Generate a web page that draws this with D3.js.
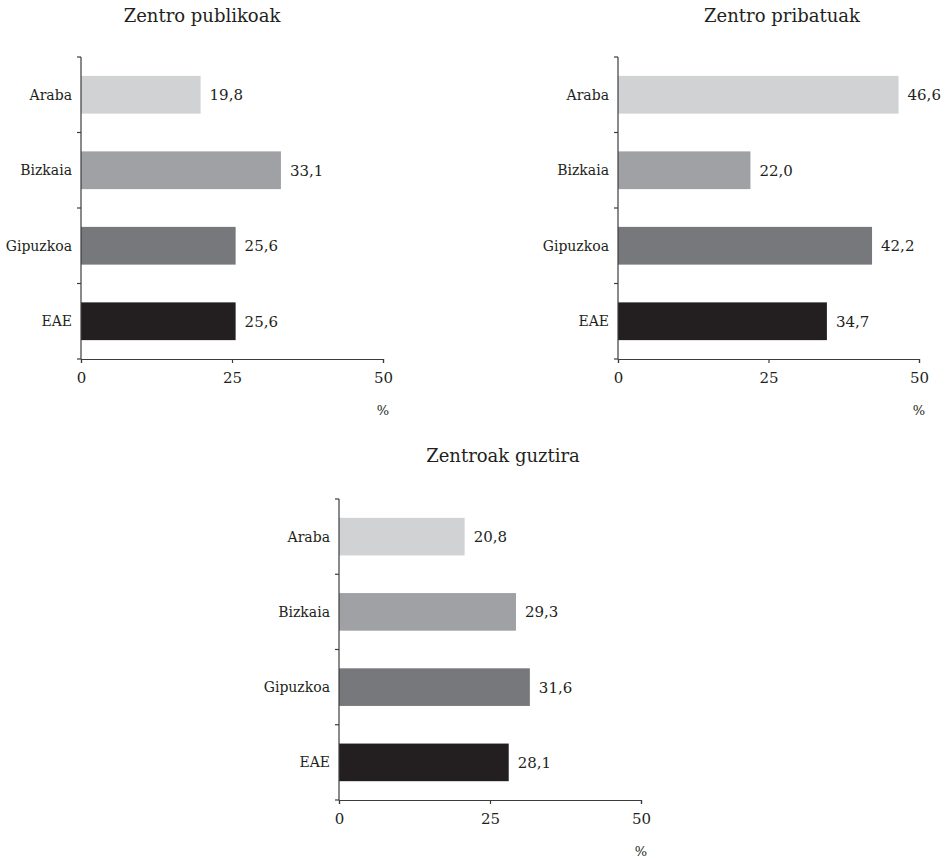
<!DOCTYPE html>
<html>
<head>
<meta charset="utf-8">
<script src="https://cdn.jsdelivr.net/npm/d3@7"></script>
<style>
  html, body { margin: 0; padding: 0; background: #ffffff; }
  svg { display: block; }
  text { font-family: "DejaVu Serif", "Liberation Serif", serif; fill: #231f20; }
</style>
</head>
<body>
<svg id="chart" width="948" height="860"></svg>
<script>
// ---- Data ----
const categories = ["Araba", "Bizkaia", "Gipuzkoa", "EAE"];
const panelTitles = ["Zentro publikoak", "Zentro pribatuak", "Zentroak guztira"];
const publicValues = [19.8, 33.1, 25.6, 25.6];
const privateValues = [46.6, 22.0, 42.2, 34.7];
const totalValues = [20.8, 29.3, 31.6, 28.1];
const xTicks = [0, 25, 50];
const unitLabel = "%";

// ---- Styling / layout ----
const colors = ["#d1d2d4", "#a0a1a4", "#77787b", "#231f20"];
const axisColor = "#3c3c3c";
const fmt = v => d3.format(".1f")(v).replace(".", ",");

const panels = [
  { title: panelTitles[0], values: publicValues, x0: 81, x1: 383, y0: 57, y1: 359, titleX: 202, titleY: 22 },
  { title: panelTitles[1], values: privateValues, x0: 618, x1: 919, y0: 57, y1: 359, titleX: 782, titleY: 22 },
  { title: panelTitles[2], values: totalValues, x0: 339, x1: 641, y0: 499, y1: 800, titleX: 503, titleY: 462 }
];

const svg = d3.select("#chart");

panels.forEach(p => {
  const g = svg.append("g");
  const x = d3.scaleLinear().domain([0, 50]).range([p.x0, p.x1]);
  const y = d3.scaleBand().domain(categories).range([p.y0, p.y1])
    .paddingInner(0.5).paddingOuter(0.25);
  const step = y.step();

  // title
  g.append("text")
    .attr("x", p.titleX).attr("y", p.titleY)
    .attr("text-anchor", "middle")
    .style("font-size", "18px")
    .text(p.title);

  // bars
  g.selectAll("rect.bar").data(p.values).join("rect")
    .attr("class", "bar")
    .attr("x", x(0))
    .attr("y", (d, i) => y(categories[i]))
    .attr("width", d => x(d) - x(0))
    .attr("height", y.bandwidth())
    .attr("fill", (d, i) => colors[i]);

  // value labels
  g.selectAll("text.val").data(p.values).join("text")
    .attr("class", "val")
    .attr("x", d => x(d) + 9)
    .attr("y", (d, i) => y(categories[i]) + y.bandwidth() / 2)
    .attr("dy", "0.36em")
    .style("font-size", "15px")
    .text(d => fmt(d));

  // category labels
  g.selectAll("text.cat").data(categories).join("text")
    .attr("class", "cat")
    .attr("x", x(0) - 9)
    .attr("y", d => y(d) + y.bandwidth() / 2)
    .attr("dy", "0.36em")
    .attr("text-anchor", "end")
    .style("font-size", "14px")
    .text(d => d);

  // y axis line + boundary ticks
  g.append("line")
    .attr("x1", x(0)).attr("x2", x(0))
    .attr("y1", p.y0).attr("y2", p.y1)
    .attr("stroke", axisColor).attr("stroke-width", 1.2);
  const bounds = d3.range(categories.length + 1).map(i => p.y0 + i * step);
  g.selectAll("line.ytick").data(bounds).join("line")
    .attr("class", "ytick")
    .attr("x1", x(0) - 4).attr("x2", x(0))
    .attr("y1", d => d).attr("y2", d => d)
    .attr("stroke", axisColor).attr("stroke-width", 1.2);

  // x axis
  const xAxis = d3.axisBottom(x).tickValues(xTicks).tickSize(4).tickPadding(9)
    .tickFormat(d3.format("d"));
  const ax = g.append("g").attr("transform", `translate(0,${p.y1})`).call(xAxis);
  ax.select(".domain").attr("stroke", axisColor).attr("stroke-width", 1.2);
  ax.selectAll(".tick line").attr("stroke", axisColor).attr("stroke-width", 1.2);
  ax.selectAll(".tick text")
    .style("font-family", "\"DejaVu Serif\", serif")
    .style("font-size", "15px")
    .attr("fill", "#231f20");

  // unit label
  g.append("text")
    .attr("x", x(50)).attr("y", p.y1 + 51)
    .attr("dy", "0.36em")
    .attr("text-anchor", "middle")
    .style("font-size", "13px")
    .text(unitLabel);
});
</script>
</body>
</html>
